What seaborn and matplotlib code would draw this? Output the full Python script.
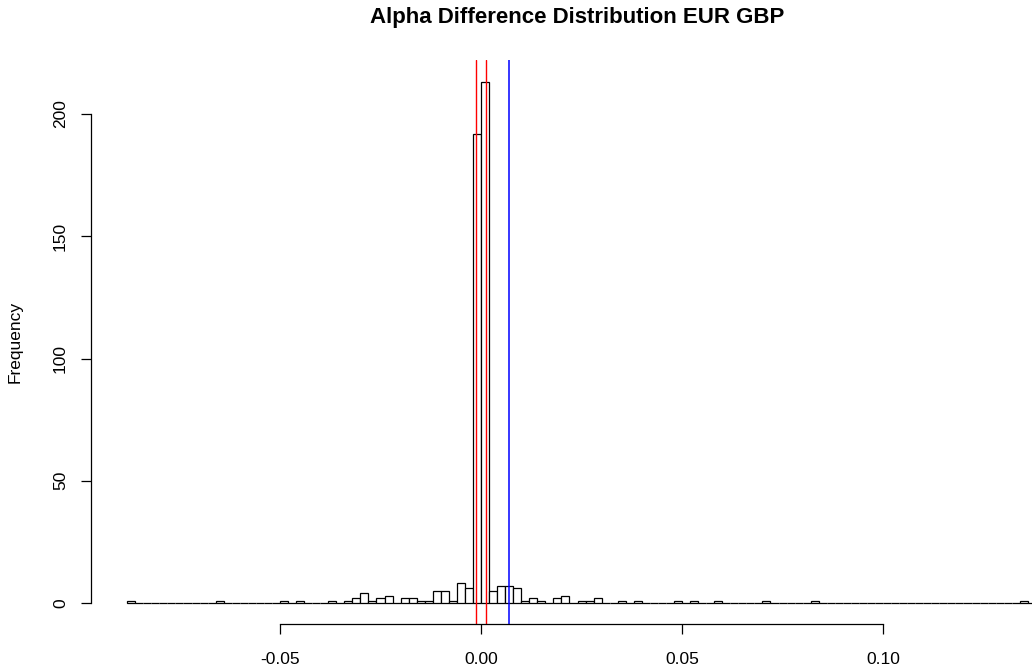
import numpy as np
import pandas as pd
import matplotlib
matplotlib.use("Agg")
import matplotlib.pyplot as plt
import seaborn as sns

# ---- data ----
bin_width = 0.002
bin_first = -0.088
bin_last = 0.136  # left edge of last bin
nonzero_bin_left = [-0.088, -0.066, -0.050, -0.046, -0.038, -0.034, -0.032, -0.030,
                    -0.028, -0.026, -0.024, -0.020, -0.018, -0.016, -0.014, -0.012,
                    -0.010, -0.008, -0.006, -0.004, -0.002, 0.000, 0.002, 0.004,
                    0.006, 0.008, 0.010, 0.012, 0.014, 0.018, 0.020, 0.024, 0.026,
                    0.028, 0.034, 0.038, 0.048, 0.052, 0.058, 0.070, 0.082, 0.134]
nonzero_counts = [1, 1, 1, 1, 1, 1, 2, 4,
                  1, 2, 3, 2, 2, 1, 1, 5,
                  5, 1, 8, 6, 192, 213, 5, 7,
                  7, 6, 1, 2, 1, 2, 3, 1, 1,
                  2, 1, 1, 1, 1, 1, 1, 1, 1]
red_lines = [-0.0012, 0.0012]
blue_lines = [0.0069]
x_ticks = [-0.05, 0.00, 0.05, 0.10]
x_ticklabels = ["-0.05", "0.00", "0.05", "0.10"]
y_ticks = [0, 50, 100, 150, 200]
title = "Alpha Difference Distribution EUR GBP"
ylabel = "Frequency"

# ---- build full bin table ----
n_bins = int(round((bin_last - bin_first) / bin_width)) + 1
lefts = bin_first + bin_width * np.arange(n_bins)
counts = np.zeros(n_bins)
for l, c in zip(nonzero_bin_left, nonzero_counts):
    idx = int(round((l - bin_first) / bin_width))
    counts[idx] = c
df = pd.DataFrame({"x": lefts + bin_width / 2, "w": counts})

sns.set_style("white")
plt.rcParams["font.family"] = ["Liberation Sans", "DejaVu Sans"]
plt.rcParams["text.color"] = "black"
plt.rcParams["axes.labelcolor"] = "black"

fig = plt.figure(figsize=(10.32, 6.69), dpi=100)
W, H = 1032, 669
left_px, right_px, top_px, bottom_px = 91, 1064, 60, 624
ax = fig.add_axes([left_px / W, (H - bottom_px) / H,
                   (right_px - left_px) / W, (bottom_px - top_px) / H])

sns.histplot(data=df, x="x", weights="w", bins=n_bins,
             binrange=(bin_first, bin_first + n_bins * bin_width), ax=ax,
             color="white", edgecolor="black", linewidth=0.9, alpha=1)

for v in red_lines:
    ax.axvline(v, color="#FF0000", linewidth=1.0)
for v in blue_lines:
    ax.axvline(v, color="#0000FF", linewidth=1.1)

ax.set_xlim(-0.097, 0.145)
ax.set_ylim(-8.6, 222.1)

for s in ["top", "right"]:
    ax.spines[s].set_visible(False)
ax.spines["bottom"].set_bounds(x_ticks[0], x_ticks[-1])
ax.spines["left"].set_bounds(y_ticks[0], y_ticks[-1])
for s in ["bottom", "left"]:
    ax.spines[s].set_color("black")
    ax.spines[s].set_linewidth(0.9)

ax.set_xticks(x_ticks)
ax.set_xticklabels(x_ticklabels)
ax.set_yticks(y_ticks)
ax.set_yticklabels([str(t) for t in y_ticks], rotation=90, va="center")
ax.tick_params(axis="both", direction="out", length=7, width=0.9,
               bottom=True, left=True,
               color="black", labelsize=12.5, labelcolor="black")
ax.tick_params(axis="x", pad=13.5)
ax.tick_params(axis="y", pad=9.5)

ax.set_xlabel("")
ax.set_ylabel(ylabel, fontsize=12.5, color="black")
ax.yaxis.set_label_coords((23 - left_px) / (right_px - left_px), 0.5)
ax.grid(False)

fig.text(577 / W, 1 - 17 / H, title, ha="center", va="center",
         fontsize=16, fontweight="bold", color="black")

fig.savefig("out.png", dpi=100)
